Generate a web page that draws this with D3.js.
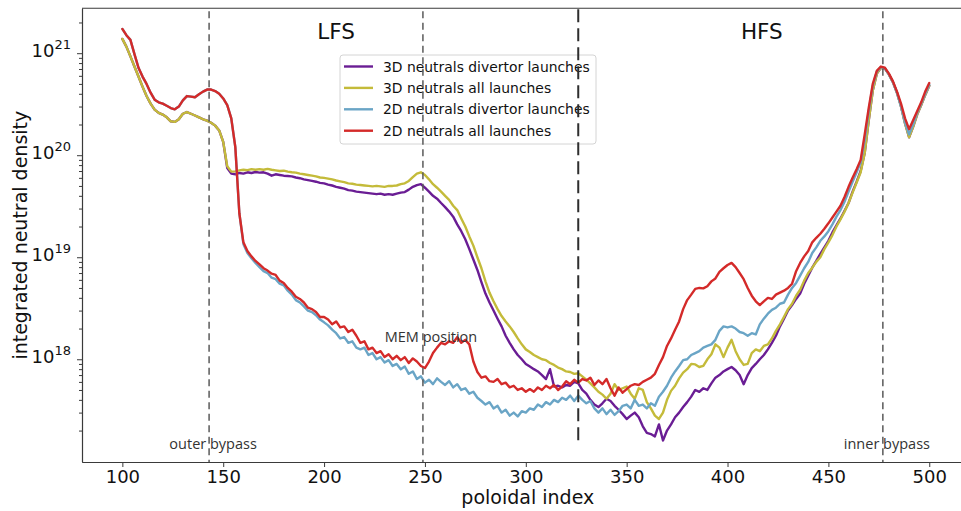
<!DOCTYPE html>
<html>
<head>
<meta charset="utf-8">
<script src="https://cdn.jsdelivr.net/npm/d3@7"></script>
<style>
  body { margin: 0; background: #fff; }
  svg { display: block; }
</style>
</head>
<body>
<svg id="chart" width="961" height="511"></svg>
<script>
// Poloidal index of every sample (one sample every 2 cells)
const poloidalIndex = d3.range(100, 501, 2);

// Integrated neutral density per poloidal cell [m^-2]
const neutrals3DDivertor = [
  1.38e21, 1.16e21, 9.3e20, 7.4e20, 5.9e20, 4.7e20, 3.8e20, 3.2e20, 2.8e20, 2.6e20,
  2.5e20, 2.35e20, 2.15e20, 2.12e20, 2.25e20, 2.55e20, 2.65e20, 2.55e20, 2.45e20, 2.35e20,
  2.25e20, 2.18e20, 2.08e20, 1.95e20, 1.75e20, 1.35e20, 7.5e19, 6.6e19, 6.5e19, 6.7e19,
  6.6e19, 6.8e19, 6.7e19, 6.85e19, 6.75e19, 6.8e19, 6.6e19, 6.3e19, 6.5e19, 6.4e19,
  6.3e19, 6.25e19, 6.2e19, 6.05e19, 5.95e19, 5.8e19, 5.7e19, 5.6e19, 5.5e19, 5.35e19,
  5.3e19, 5.15e19, 5.05e19, 4.9e19, 4.8e19, 4.7e19, 4.55e19, 4.5e19, 4.4e19, 4.35e19,
  4.3e19, 4.25e19, 4.2e19, 4.15e19, 4.2e19, 4.1e19, 4.15e19, 4.1e19, 4.2e19, 4.3e19,
  4.35e19, 4.6e19, 4.9e19, 5.1e19, 5.2e19, 4.8e19, 4.4e19, 4.0e19, 3.75e19, 3.4e19,
  3.1e19, 2.8e19, 2.5e19, 2.1e19, 1.8e19, 1.5e19, 1.2e19, 9.5e18, 7.5e18, 5.7e18,
  4.4e18, 3.6e18, 3.0e18, 2.5e18, 2.1e18, 1.7e18, 1.45e18, 1.25e18, 1.1e18, 1.0e18,
  9.0e17, 8.5e17, 8.0e17, 7.6e17, 7.0e17, 6.4e17, 8.0e17, 5.4e17, 5.5e17, 5.3e17,
  5.6e17, 5.5e17, 6.0e17, 5.8e17, 5.0e17, 4.6e17, 4.0e17, 3.6e17, 3.4e17, 3.7e17,
  4.1e17, 3.9e17, 3.5e17, 3.2e17, 2.9e17, 2.6e17, 2.8e17, 3.0e17, 2.7e17, 2.2e17,
  1.9e17, 1.85e17, 1.75e17, 2.3e17, 1.6e17, 2.0e17, 2.3e17, 2.7e17, 3.0e17, 3.4e17,
  3.8e17, 4.3e17, 5.0e17, 4.8e17, 5.2e17, 5.0e17, 5.8e17, 6.6e17, 7.0e17, 7.6e17,
  8.0e17, 8.4e17, 7.8e17, 7.0e17, 5.7e17, 7.0e17, 8.2e17, 9.0e17, 1.0e18, 1.1e18,
  1.25e18, 1.45e18, 1.7e18, 2.1e18, 2.5e18, 3.0e18, 3.4e18, 3.9e18, 4.4e18, 5.5e18,
  6.6e18, 7.9e18, 9.2e18, 1.08e19, 1.25e19, 1.45e19, 1.75e19, 2.05e19, 2.4e19, 2.85e19,
  3.4e19, 4.4e19, 5.5e19, 7.0e19, 1.05e20, 2.2e20, 4.3e20, 6.3e20, 7.2e20, 7.05e20,
  6.2e20, 5.2e20, 4.1e20, 3.0e20, 2.05e20, 1.5e20, 1.9e20, 2.5e20, 3.1e20, 3.9e20,
  4.8e20
];

const neutrals3DAll = [
  1.38e21, 1.16e21, 9.3e20, 7.4e20, 5.9e20, 4.7e20, 3.8e20, 3.2e20, 2.8e20, 2.6e20,
  2.5e20, 2.35e20, 2.15e20, 2.12e20, 2.25e20, 2.55e20, 2.65e20, 2.55e20, 2.45e20, 2.35e20,
  2.25e20, 2.18e20, 2.08e20, 1.95e20, 1.75e20, 1.35e20, 7.8e19, 6.9e19, 6.95e19, 7.1e19,
  7.2e19, 7.15e19, 7.3e19, 7.2e19, 7.3e19, 7.2e19, 7.35e19, 7.2e19, 7.1e19, 7.0e19,
  7.05e19, 6.9e19, 6.8e19, 6.75e19, 6.6e19, 6.5e19, 6.4e19, 6.3e19, 6.2e19, 6.05e19,
  6.0e19, 5.9e19, 5.8e19, 5.65e19, 5.55e19, 5.45e19, 5.3e19, 5.25e19, 5.15e19, 5.1e19,
  5.05e19, 5.0e19, 4.95e19, 5.0e19, 4.95e19, 4.9e19, 5.0e19, 5.0e19, 5.05e19, 5.2e19,
  5.3e19, 5.6e19, 6.1e19, 6.6e19, 6.8e19, 6.4e19, 5.8e19, 5.2e19, 4.8e19, 4.4e19,
  4.0e19, 3.65e19, 3.2e19, 2.9e19, 2.4e19, 2.0e19, 1.6e19, 1.3e19, 1.0e19, 7.8e18,
  5.8e18, 4.5e18, 3.7e18, 3.1e18, 2.65e18, 2.35e18, 2.1e18, 1.85e18, 1.6e18, 1.4e18,
  1.25e18, 1.18e18, 1.1e18, 1.05e18, 1.0e18, 9.8e17, 9.2e17, 8.8e17, 8.3e17, 8.0e17,
  7.6e17, 7.5e17, 7.2e17, 7.3e17, 6.8e17, 6.3e17, 5.8e17, 5.3e17, 4.8e17, 4.5e17,
  4.1e17, 4.6e17, 5.7e17, 5.0e17, 5.2e17, 5.4e17, 4.6e17, 4.1e17, 5.2e17, 5.0e17,
  3.8e17, 3.3e17, 2.8e17, 2.6e17, 3.0e17, 4.0e17, 4.9e17, 5.5e17, 6.5e17, 7.4e17,
  8.0e17, 9.0e17, 8.9e17, 8.4e17, 8.6e17, 1.0e18, 1.12e18, 1.4e18, 1.3e18, 1.05e18,
  1.3e18, 1.55e18, 1.2e18, 1.0e18, 8.8e17, 9.0e17, 1.15e18, 1.25e18, 1.2e18, 1.35e18,
  1.4e18, 1.6e18, 1.9e18, 2.2e18, 2.6e18, 3.1e18, 3.5e18, 4.2e18, 4.8e18, 5.9e18,
  7.0e18, 7.9e18, 9.0e18, 1.0e19, 1.2e19, 1.4e19, 1.65e19, 2.0e19, 2.35e19, 2.8e19,
  3.4e19, 4.3e19, 5.4e19, 6.8e19, 1.05e20, 2.2e20, 4.3e20, 6.3e20, 7.2e20, 7.1e20,
  6.2e20, 5.2e20, 4.1e20, 3.0e20, 2.05e20, 1.5e20, 1.9e20, 2.5e20, 3.1e20, 3.9e20,
  4.8e20
];

const neutrals2DDivertor = [
  1.73e21, 1.5e21, 1.35e21, 9.8e20, 7.2e20, 5.9e20, 5.0e20, 4.1e20, 3.5e20, 3.3e20,
  3.2e20, 3.05e20, 2.9e20, 2.82e20, 3.0e20, 3.45e20, 3.8e20, 3.75e20, 3.7e20, 3.95e20,
  4.2e20, 4.4e20, 4.4e20, 4.25e20, 4.0e20, 3.6e20, 3.1e20, 2.3e20, 1.2e20, 2.7e19,
  1.35e19, 1.1e19, 9.8e18, 8.8e18, 8.0e18, 7.3e18, 7.0e18, 6.3e18, 6.1e18, 5.5e18,
  5.3e18, 4.7e18, 4.3e18, 3.8e18, 3.6e18, 3.3e18, 3.0e18, 2.9e18, 2.7e18, 2.45e18,
  2.3e18, 2.15e18, 1.95e18, 1.8e18, 1.6e18, 1.65e18, 1.45e18, 1.5e18, 1.3e18, 1.25e18,
  1.3e18, 1.1e18, 1.15e18, 1.0e18, 1.05e18, 9.3e17, 9.8e17, 8.6e17, 9.0e17, 8.0e17,
  8.5e17, 7.2e17, 7.6e17, 6.4e17, 6.8e17, 5.9e17, 6.3e17, 5.7e17, 6.5e17, 6.0e17,
  5.6e17, 6.1e17, 5.3e17, 5.7e17, 5.0e17, 5.2e17, 4.6e17, 4.8e17, 4.2e17, 3.9e17,
  3.6e17, 3.8e17, 3.3e17, 3.5e17, 3.0e17, 3.2e17, 2.8e17, 3.0e17, 2.75e17, 3.1e17,
  3.0e17, 3.3e17, 3.2e17, 3.6e17, 3.4e17, 3.8e17, 3.6e17, 4.0e17, 3.8e17, 4.2e17,
  4.0e17, 4.4e17, 3.9e17, 4.4e17, 4.0e17, 3.7e17, 3.9e17, 3.3e17, 3.0e17, 3.3e17,
  2.9e17, 3.2e17, 2.85e17, 3.1e17, 3.5e17, 3.6e17, 3.3e17, 4.0e17, 3.5e17, 3.6e17,
  3.3e17, 3.7e17, 3.5e17, 4.3e17, 4.8e17, 5.5e17, 6.6e17, 7.6e17, 8.6e17, 9.8e17,
  1.0e18, 1.1e18, 1.15e18, 1.2e18, 1.3e18, 1.35e18, 1.4e18, 1.55e18, 1.9e18, 2.1e18,
  2.05e18, 2.1e18, 2.0e18, 1.85e18, 1.8e18, 1.7e18, 1.8e18, 1.75e18, 2.2e18, 2.5e18,
  2.8e18, 3.05e18, 3.2e18, 3.5e18, 3.6e18, 4.3e18, 5.0e18, 5.6e18, 6.6e18, 7.8e18,
  9.0e18, 1.1e19, 1.25e19, 1.45e19, 1.6e19, 1.8e19, 2.1e19, 2.5e19, 2.9e19, 3.5e19,
  4.4e19, 5.5e19, 6.8e19, 8.5e19, 1.4e20, 2.7e20, 4.8e20, 6.6e20, 7.3e20, 7.1e20,
  6.2e20, 5.2e20, 4.1e20, 3.0e20, 2.1e20, 1.6e20, 2.0e20, 2.6e20, 3.2e20, 4.0e20,
  4.9e20
];

const neutrals2DAll = [
  1.73e21, 1.5e21, 1.35e21, 9.8e20, 7.2e20, 5.9e20, 5.0e20, 4.1e20, 3.5e20, 3.3e20,
  3.2e20, 3.05e20, 2.9e20, 2.82e20, 3.0e20, 3.45e20, 3.8e20, 3.75e20, 3.7e20, 3.95e20,
  4.2e20, 4.4e20, 4.4e20, 4.25e20, 4.0e20, 3.6e20, 3.1e20, 2.3e20, 1.2e20, 2.7e19,
  1.4e19, 1.15e19, 1.02e19, 9.2e18, 8.5e18, 7.8e18, 7.4e18, 6.9e18, 6.7e18, 5.9e18,
  5.6e18, 5.0e18, 4.6e18, 4.1e18, 3.9e18, 3.6e18, 3.2e18, 3.1e18, 2.9e18, 2.6e18,
  2.6e18, 2.45e18, 2.2e18, 2.35e18, 2.05e18, 2.1e18, 1.85e18, 1.95e18, 1.7e18, 1.45e18,
  1.5e18, 1.25e18, 1.3e18, 1.15e18, 1.2e18, 1.05e18, 1.12e18, 1.0e18, 1.08e18, 9.8e17,
  1.05e18, 9.2e17, 1.02e18, 9.5e17, 8.6e17, 8.2e17, 9.5e17, 1.15e18, 1.3e18, 1.45e18,
  1.4e18, 1.5e18, 1.45e18, 1.65e18, 1.45e18, 1.55e18, 1.4e18, 9.5e17, 7.5e17, 6.6e17,
  6.8e17, 6.1e17, 6.0e17, 6.4e17, 5.7e17, 5.9e17, 5.3e17, 5.5e17, 5.0e17, 5.2e17,
  4.8e17, 5.1e17, 4.8e17, 5.3e17, 5.0e17, 5.5e17, 5.2e17, 5.6e17, 5.0e17, 5.4e17,
  6.1e17, 5.7e17, 6.3e17, 5.9e17, 6.4e17, 6.2e17, 6.6e17, 5.6e17, 6.2e17, 5.7e17,
  6.4e17, 5.2e17, 4.4e17, 5.3e17, 4.7e17, 5.1e17, 5.5e17, 5.7e17, 5.6e17, 6.0e17,
  6.3e17, 6.6e17, 7.2e17, 8.8e17, 1.05e18, 1.35e18, 1.6e18, 1.95e18, 2.35e18, 3.1e18,
  3.8e18, 4.3e18, 4.9e18, 5.0e18, 4.95e18, 5.2e18, 5.8e18, 6.2e18, 7.2e18, 7.8e18,
  8.4e18, 8.8e18, 8.0e18, 7.0e18, 6.1e18, 5.0e18, 4.2e18, 3.7e18, 3.4e18, 3.7e18,
  4.0e18, 3.9e18, 4.3e18, 4.5e18, 4.7e18, 5.0e18, 5.5e18, 7.3e18, 8.8e18, 1.02e19,
  1.15e19, 1.4e19, 1.55e19, 1.7e19, 1.9e19, 2.15e19, 2.45e19, 2.8e19, 3.2e19, 3.9e19,
  4.9e19, 6.0e19, 7.3e19, 9.0e19, 1.6e20, 2.9e20, 5.0e20, 6.7e20, 7.4e20, 7.2e20,
  6.3e20, 5.3e20, 4.2e20, 3.2e20, 2.3e20, 1.8e20, 2.2e20, 2.7e20, 3.3e20, 4.2e20,
  5.1e20
];

const seriesNames = [
  "3D neutrals divertor launches",
  "3D neutrals all launches",
  "2D neutrals divertor launches",
  "2D neutrals all launches"
];
const seriesValues = [neutrals3DDivertor, neutrals3DAll, neutrals2DDivertor, neutrals2DAll];
const seriesColors = ["#6a1d94", "#c4bb3a", "#6aa5c6", "#d42a29"];

const xTickValues = [100, 150, 200, 250, 300, 350, 400, 450, 500];
const yTickExponents = [18, 19, 20, 21];

// Reference positions along the poloidal index
const markerIndex = [143, 249, 477];
const markerLabels = ["outer bypass", "MEM position", "inner bypass"];
const separatorIndex = 326;
const regionLabels = ["LFS", "HFS"];
const regionLabelIndex = [206, 417];

// ---- layout ----
const plot = { left: 82, right: 969.6, top: 8.3, bottom: 462 };

const x = d3.scaleLinear().domain([80, 520]).range([plot.left, plot.right]);
const y = d3.scaleLog().domain([Math.pow(10, 16.993), Math.pow(10, 21.44)]).range([plot.bottom, plot.top]);

const svg = d3.select("#chart");
const FONT = "'DejaVu Sans', sans-serif";
const NOTE_FONT = "'Open Sans', 'Liberation Sans', sans-serif";

// ---- curves ----
const line = d3.line()
  .x(d => x(d[0]))
  .y(d => y(d[1]))
  .curve(d3.curveLinear);

const curves = svg.append("g");
seriesValues.forEach((vals, k) => {
  curves.append("path")
    .datum(poloidalIndex.map((p, i) => [p, vals[i]]))
    .attr("d", line)
    .attr("fill", "none")
    .attr("stroke", seriesColors[k])
    .attr("stroke-width", 2.4)
    .attr("stroke-linejoin", "round")
    .attr("stroke-linecap", "round");
});

// ---- axes ----
const axisColor = "#3a3a3a";

const xAxis = svg.append("g")
  .attr("transform", `translate(0,${plot.bottom})`)
  .call(d3.axisBottom(x).tickValues(xTickValues).tickSize(5).tickSizeOuter(0).tickPadding(3));
xAxis.selectAll("text").attr("font-family", FONT).attr("font-size", 18).attr("fill", "#111");

const yMajor = yTickExponents.map(e => Math.pow(10, e));
const yMinor = [];
for (let e = 16; e <= 21; e++) {
  for (let m = 2; m <= 9; m++) {
    const v = m * Math.pow(10, e);
    if (v > y.domain()[0] && v < y.domain()[1]) yMinor.push(v);
  }
}

svg.append("g")
  .attr("transform", `translate(${plot.left},0)`)
  .call(d3.axisLeft(y).tickValues(yMinor).tickSize(3).tickSizeOuter(0).tickFormat(() => ""));

const yAxis = svg.append("g")
  .attr("transform", `translate(${plot.left},0)`)
  .call(d3.axisLeft(y).tickValues(yMajor).tickSize(5).tickSizeOuter(0).tickPadding(6).tickFormat(() => ""));
yAxis.selectAll(".tick text").each(function (d) {
  const t = d3.select(this)
    .attr("font-family", FONT)
    .attr("fill", "#111")
    .attr("dy", "0.36em");
  t.append("tspan").attr("font-size", 18).text("10");
  t.append("tspan").attr("font-size", 13).attr("dy", "-0.62em").text(Math.round(Math.log10(d)));
});

svg.selectAll(".domain").attr("stroke", axisColor).attr("stroke-width", 1.1);
svg.selectAll(".tick line").attr("stroke", axisColor).attr("stroke-width", 1);

// top spine
svg.append("line")
  .attr("x1", plot.left).attr("x2", plot.right)
  .attr("y1", plot.top).attr("y2", plot.top)
  .attr("stroke", axisColor).attr("stroke-width", 1.1);

// axis titles
svg.append("text")
  .attr("x", (x(100) + x(500)) / 2 + 2).attr("y", 504)
  .attr("text-anchor", "middle")
  .attr("font-family", FONT).attr("font-size", 19).attr("fill", "#111")
  .text("poloidal index");

svg.append("text")
  .attr("transform", `translate(27,${(plot.top + plot.bottom) / 2}) rotate(-90)`)
  .attr("text-anchor", "middle")
  .attr("font-family", FONT).attr("font-size", 19).attr("fill", "#111")
  .text("integrated neutral density");

// region labels
regionLabels.forEach((lab, i) => {
  svg.append("text")
    .attr("x", x(regionLabelIndex[i])).attr("y", y(Math.pow(10, 21.22)) + 8)
    .attr("text-anchor", "middle")
    .attr("font-family", FONT).attr("font-size", 21.5).attr("fill", "#111")
    .text(lab);
});

// ---- legend ----
const legend = svg.append("g").attr("transform", "translate(340,55)");
legend.append("rect")
  .attr("width", 256).attr("height", 89).attr("rx", 3)
  .attr("fill", "#fff").attr("fill-opacity", 0.85)
  .attr("stroke", "#d4d4d4").attr("stroke-width", 1);
seriesNames.forEach((name, k) => {
  const ry = 11.5 + k * 21.4;
  legend.append("line")
    .attr("x1", 4).attr("x2", 33).attr("y1", ry).attr("y2", ry)
    .attr("stroke", seriesColors[k]).attr("stroke-width", 2.4);
  legend.append("text")
    .attr("x", 43).attr("y", ry + 5)
    .attr("font-family", FONT).attr("font-size", 13.9).attr("fill", "#111")
    .text(name);
});

// ---- vertical reference lines ----
markerIndex.forEach(m => {
  svg.append("line")
    .attr("x1", x(m)).attr("x2", x(m))
    .attr("y1", plot.top + 3).attr("y2", plot.bottom)
    .attr("stroke", "#5a5a5a").attr("stroke-width", 1.5)
    .attr("stroke-dasharray", "7,4.5");
});
svg.append("line")
  .attr("x1", x(separatorIndex)).attr("x2", x(separatorIndex))
  .attr("y1", plot.top + 1).attr("y2", plot.bottom - 18)
  .attr("stroke", "#2e2e2e").attr("stroke-width", 2)
  .attr("stroke-dasharray", "13,6");

// marker annotations
const noteY = [Math.pow(10, 17.12), Math.pow(10, 18.17), Math.pow(10, 17.12)];
const noteX = [145, 253, 479];
markerLabels.forEach((lab, i) => {
  svg.append("text")
    .attr("x", x(noteX[i])).attr("y", y(noteY[i]))
    .attr("text-anchor", "middle")
    .attr("font-family", NOTE_FONT).attr("font-size", 14.5).attr("fill", "#333")
    .text(lab);
});
</script>
</body>
</html>
